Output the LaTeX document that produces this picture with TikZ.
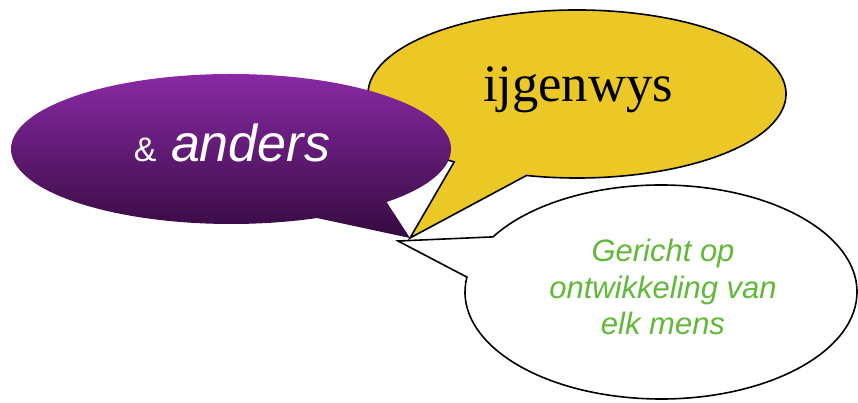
\documentclass[tikz,border=0pt]{standalone}
\usepackage{fontspec}
\setmainfont{Liberation Serif}
\newfontfamily\arialf{Liberation Sans}
\definecolor{bubbleyellow}{RGB}{235,200,37}
\definecolor{purpletop}{RGB}{141,43,170}
\definecolor{purplebot}{RGB}{52,10,62}
\definecolor{textgreen}{RGB}{98,185,57}
\begin{document}
\begin{tikzpicture}[x=1pt,y=1pt,
  outline/.style={draw=black,line width=1.6pt,line join=miter},
  lbl/.style={inner sep=0pt,outer sep=0pt}]
\useasboundingbox (0,0) rectangle (858,403);
% white bubble
\coordinate (wc) at (661,111);
\coordinate (wtip) at (398,162);
\draw[outline,fill=white] (wc) ++(172:196 and 107)
  arc[start angle=172,end angle=509,x radius=196,y radius=107]
  -- (wtip) -- cycle;
% yellow bubble
\coordinate (yc) at (577,309);
\coordinate (ytip) at (410,165);
\draw[outline,fill=bubbleyellow] (yc) ++(256:209 and 84)
  arc[start angle=256,end angle=594,x radius=209,y radius=84]
  -- (ytip) -- cycle;
% purple bubble
\coordinate (pc) at (231,254);
\coordinate (ptip) at (410,165);
\shade[top color=purpletop,bottom color=purplebot] (pc) ++(315:220 and 75)
  arc[start angle=315,end angle=653,x radius=220,y radius=75]
  -- (ptip) -- cycle;
% texts
\node[lbl,anchor=base,text=white] (anders) at (232,241)
  {\arialf{\fontsize{34}{40}\selectfont\&}{\fontsize{52}{60}\selectfont\ \itshape anders}};
\node[lbl,anchor=base] (eigen) at (578,301)
  {\fontsize{52.6}{60}\selectfont ijgenwys};
\node[lbl,align=center,text=textgreen,
  font=\arialf\itshape\fontsize{31}{36.5}\selectfont] (gericht) at (663,116)
  {Gericht op\\ontwikkeling van\\elk mens};
\end{tikzpicture}
\end{document}
